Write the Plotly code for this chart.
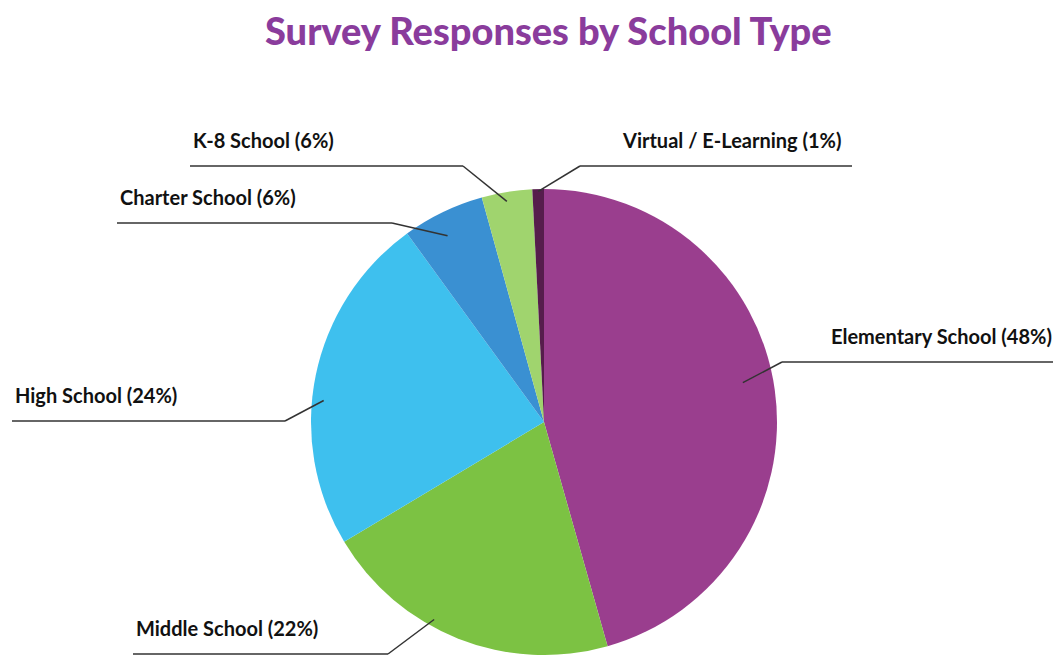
import math
import plotly.graph_objects as go

# ---- data ----
categories = ["Elementary School", "Middle School", "High School",
              "Charter School", "K-8 School", "Virtual / E-Learning"]
label_pct = [48, 22, 24, 6, 6, 1]              # percentages printed in labels
slice_values = [45.6, 20.8, 23.6, 5.7, 3.5, 0.8]  # slice sizes as drawn
colors = ["#9a3e8e", "#7cc243", "#3ec0ee", "#3a90d2", "#a0d46e", "#561d4c"]

W, H = 1057, 655
CX, CY, R = 544, 422, 233

# ---- layout of leader lines (pixel positions): elbow x, elbow y, line end x, radius frac, position in slice
leader = {
    "Elementary School":    dict(ex=782, ey=362, end=1053, rf=0.87, pos=0.48, side="right"),
    "Middle School":        dict(ex=388, ey=654, end=133,  rf=0.97, pos=0.60, side="left"),
    "High School":          dict(ex=285, ey=421, end=12,   rf=0.95, pos=0.43, side="left"),
    "Charter School":       dict(ex=392, ey=223, end=117,  rf=0.90, pos=0.42, side="left"),
    "K-8 School":           dict(ex=463, ey=166, end=190,  rf=0.96, pos=0.47, side="left"),
    "Virtual / E-Learning": dict(ex=580, ey=166, end=852,  rf=0.99, pos=0.50, side="right"),
}

def px(x):
    return x / W

def py(y):
    return 1 - y / H

fig = go.Figure(go.Pie(
    labels=categories,
    values=slice_values,
    sort=False,
    direction="clockwise",
    rotation=0,
    marker=dict(colors=colors, line=dict(width=0)),
    textinfo="none",
    hoverinfo="label",
    showlegend=False,
    domain=dict(x=[px(CX - R), px(CX + R)], y=[py(CY + R), py(CY - R)]),
))

shapes = []
annotations = []
total = sum(slice_values)
cum = 0.0
for cat, pct, v in zip(categories, label_pct, slice_values):
    L = leader[cat]
    ang = 2 * math.pi * (cum + L["pos"] * v) / total
    cum += v
    sx = CX + L["rf"] * R * math.sin(ang)
    sy = CY - L["rf"] * R * math.cos(ang)
    line = dict(color="#333333", width=1.5)
    shapes.append(dict(type="line", xref="paper", yref="paper",
                       x0=px(sx), y0=py(sy), x1=px(L["ex"]), y1=py(L["ey"]), line=line))
    shapes.append(dict(type="line", xref="paper", yref="paper",
                       x0=px(L["ex"]), y0=py(L["ey"]), x1=px(L["end"]), y1=py(L["ey"]), line=line))
    if L["side"] == "right":
        tx = L["end"] - (10 if cat.startswith("Virtual") else 0)
        xa = "right"
    else:
        tx = L["end"] + 2
        xa = "left"
    annotations.append(dict(
        text=f"{cat} ({pct}%)", xref="paper", yref="paper",
        x=px(tx), y=py(L["ey"] - 26), xanchor=xa, yanchor="middle",
        showarrow=False, borderpad=0,
        font=dict(family="Lato", size=20, color="#111111", weight="bold"),
    ))

annotations.append(dict(
    text="Survey Responses by School Type", xref="paper", yref="paper",
    x=px(548), y=py(30), xanchor="center", yanchor="middle", showarrow=False,
    font=dict(family="Lato", size=38, color="#8a3c9c", weight=900),
))

fig.update_layout(
    width=W, height=H,
    margin=dict(l=0, r=0, t=0, b=0),
    paper_bgcolor="white", plot_bgcolor="white",
    shapes=shapes, annotations=annotations,
)

fig.write_html("out.html")
